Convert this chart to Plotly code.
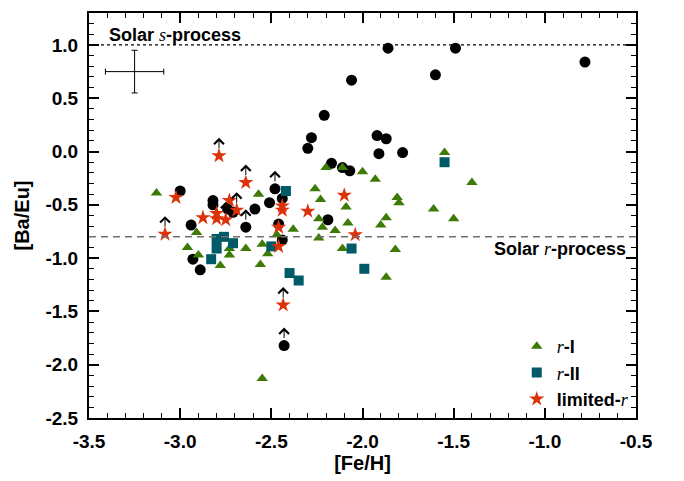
import plotly.graph_objects as go

# ---------------- data ----------------
circ_feh = [-1.86, -1.49, -1.60, -0.78, -2.06, -2.21,
            -2.28, -2.30, -1.92, -1.87, -1.91, -1.78,
            -2.17, -2.11, -2.07, -3.00, -2.82, -2.82,
            -2.48, -2.44, -2.51, -2.59, -2.19, -2.94,
            -2.64, -2.71, -2.74, -2.46, -2.44, -2.93, -2.89, -2.43]
circ_baeu = [0.97, 0.97, 0.72, 0.84, 0.67, 0.34,
             0.13, 0.03, 0.15, 0.12, -0.02, -0.01,
             -0.11, -0.15, -0.18, -0.37, -0.46, -0.50,
             -0.35, -0.44, -0.48, -0.54, -0.64, -0.69,
             -0.71, -0.57, -0.54, -0.68, -0.83, -1.01, -1.11, -1.82]
circ_limit = [0, 0, 0, 0, 0, 0,
              0, 0, 0, 0, 0, 0,
              0, 0, 0, 0, 0, 0,
              1, 0, 0, 0, 0, 0,
              1, 0, 0, 0, 0, 0, 0, 1]

rI_feh = [-3.13, -2.57, -2.26, -2.23, -2.20, -2.91, -2.96, -2.90, -2.73, -2.73,
          -2.78, -2.64, -2.55, -2.56, -2.52, -2.47, -2.38, -2.24, -2.22, -2.15,
          -2.24, -2.11, -2.00, -1.93, -1.55, -1.40, -1.81, -1.80, -2.09, -1.61,
          -1.50, -2.08, -1.87, -1.90, -2.11, -1.82, -1.87, -2.55]
rI_baeu = [-0.39, -0.40, -0.35, -0.45, -0.15, -0.76, -0.90, -0.97, -0.91, -0.97,
           -1.07, -0.91, -0.87, -1.06, -0.96, -0.78, -0.73, -0.63, -0.71, -0.74,
           -0.81, -0.15, -0.19, -0.26, -0.01, -0.29, -0.43, -0.48, -0.52, -0.54,
           -0.63, -0.67, -0.62, -0.69, -0.91, -0.92, -1.18, -2.13]

rII_feh = [-2.42, -2.80, -2.76, -2.71, -2.80, -2.83, -2.50, -2.40, -2.35, -2.06, -1.99, -1.55]
rII_baeu = [-0.37, -0.82, -0.80, -0.86, -0.91, -1.01, -0.89, -1.14, -1.21, -0.91, -1.10, -0.10]

lim_feh = [-2.787, -3.023, -3.083, -2.875, -2.80, -2.80, -2.73, -2.69, -2.75,
           -2.64, -2.44, -2.44, -2.30, -2.46, -2.46, -2.435, -2.10, -2.04]
lim_baeu = [-0.04, -0.43, -0.775, -0.62, -0.63, -0.58, -0.46, -0.55, -0.64,
            -0.29, -0.51, -0.55, -0.56, -0.71, -0.89, -1.44, -0.41, -0.78]
lim_limit = [1, 0, 1, 0, 0, 0, 0, 1, 1,
             1, 0, 0, 0, 0, 0, 1, 0, 0]

solar_s = 1.0
solar_r = -0.8

err_feh, err_baeu = [-3.25], [0.75]
err_dx, err_dy = [0.16], [0.20]

x_range = [-3.5, -0.5]
y_range = [-2.5, 1.3]
x_ticks = [-3.5, -3.0, -2.5, -2.0, -1.5, -1.0, -0.5]
x_ticktext = ["-3.5", "-3.0", "-2.5", "-2.0", "-1.5", "-1.0", "-0.5"]
y_ticks = [1.0, 0.5, 0.0, -0.5, -1.0, -1.5, -2.0, -2.5]
y_ticktext = ["1.0", "0.5", "0.0", "-0.5", "-1.0", "-1.5", "-2.0", "-2.5"]
x_minor = [round(-3.5 + 0.1 * i, 2) for i in range(31)]
y_minor = [round(-2.5 + 0.1 * i, 2) for i in range(39)]

# ---------------- style ----------------
SANS = "Liberation Sans, Arial, sans-serif"
IT = "<span style='font-family:Liberation Serif;font-style:italic;font-weight:normal'>%s</span>"
GREEN = "#3D7A06"
TEAL = "#005A68"
RED = "#DC320A"

fig = go.Figure()

fig.add_trace(go.Scatter(x=circ_feh, y=circ_baeu, mode="markers", showlegend=False,
                         marker=dict(symbol="circle", size=11, color="black")))
fig.add_trace(go.Scatter(x=rI_feh, y=rI_baeu, mode="markers", name=(IT % "r") + "-I",
                         legendgroup="a",
                         marker=dict(symbol="triangle-up", size=10, color=GREEN)))
fig.add_trace(go.Scatter(x=rII_feh, y=rII_baeu, mode="markers", name=(IT % "r") + "-II",
                         legendgroup="b",
                         marker=dict(symbol="square", size=10, color=TEAL)))
fig.add_trace(go.Scatter(x=lim_feh, y=lim_baeu, mode="markers", name="limited-" + (IT % "r"),
                         legendgroup="c",
                         marker=dict(symbol="star", size=11.5, color=RED)))

# typical error cross
fig.add_trace(go.Scatter(x=err_feh, y=err_baeu, mode="markers", showlegend=False,
                         marker=dict(size=0.1, color="black"),
                         error_x=dict(type="data", array=err_dx, color="black", thickness=1, width=3),
                         error_y=dict(type="data", array=err_dy, color="black", thickness=1, width=3)))

annotations = []
for xs, ys, fl in [(circ_feh, circ_baeu, circ_limit), (lim_feh, lim_baeu, lim_limit)]:
    for xv, yv, f in zip(xs, ys, fl):
        if f:
            annotations.append(dict(x=xv, y=yv, xref="x", yref="y", text="", showarrow=True,
                                    ax=0, ay=12, yshift=18, arrowhead=4, arrowsize=1.9,
                                    arrowwidth=1, arrowcolor="black"))

annotations.append(dict(x=-3.40, y=1.092, xref="x", yref="y", xanchor="left", yanchor="middle",
                        showarrow=False, text="Solar " + (IT % "s") + "-process",
                        font=dict(family=SANS, size=18, color="black", weight="bold")))
annotations.append(dict(x=-1.292, y=-0.91, xref="x", yref="y", xanchor="left", yanchor="middle",
                        showarrow=False, text="Solar " + (IT % "r") + "-process",
                        font=dict(family=SANS, size=18, color="black", weight="bold")))

shapes = [
    dict(type="line", xref="x domain", x0=0, x1=1, yref="y", y0=solar_s, y1=solar_s,
         line=dict(color="black", width=1.2, dash="dot")),
    dict(type="line", xref="x domain", x0=0, x1=1, yref="y", y0=solar_r, y1=solar_r,
         line=dict(color="#707070", width=1.5, dash="7px,5px")),
]

axis_common = dict(showgrid=False, zeroline=False, showline=True, linecolor="black", linewidth=2,
                   mirror="allticks", ticks="inside", ticklen=10, tickwidth=1.5, tickcolor="black",
                   layer="above traces",
                   tickfont=dict(family=SANS, size=19, color="black", weight="bold"))

fig.update_layout(
    width=684, height=481,
    margin=dict(l=89, r=48, t=11, b=57),
    paper_bgcolor="white", plot_bgcolor="white",
    font=dict(family=SANS, color="black"),
    xaxis=dict(range=x_range, tickmode="array", tickvals=x_ticks, ticktext=x_ticktext,
               minor=dict(tickmode="array", tickvals=x_minor, ticks="inside", ticklen=5,
                          tickwidth=1, tickcolor="black", showgrid=False),
               title=dict(text="[Fe/H]", standoff=4,
                          font=dict(family=SANS, size=20, color="black", weight="bold")),
               ticklabelstandoff=5, **axis_common),
    yaxis=dict(range=y_range, tickmode="array", tickvals=y_ticks, ticktext=y_ticktext,
               minor=dict(tickmode="array", tickvals=y_minor, ticks="inside", ticklen=5,
                          tickwidth=1, tickcolor="black", showgrid=False),
               title=dict(text="[Ba/Eu]", standoff=10,
                          font=dict(family=SANS, size=20, color="black", weight="bold")),
               ticklabelstandoff=5, **axis_common),
    legend=dict(x=0.782, y=0.0, xanchor="left", yanchor="bottom", bgcolor="rgba(0,0,0,0)",
                tracegroupgap=0,
                font=dict(family=SANS, size=18, color="black", weight="bold")),
    annotations=annotations,
    shapes=shapes,
)

fig.write_html("out.html")
